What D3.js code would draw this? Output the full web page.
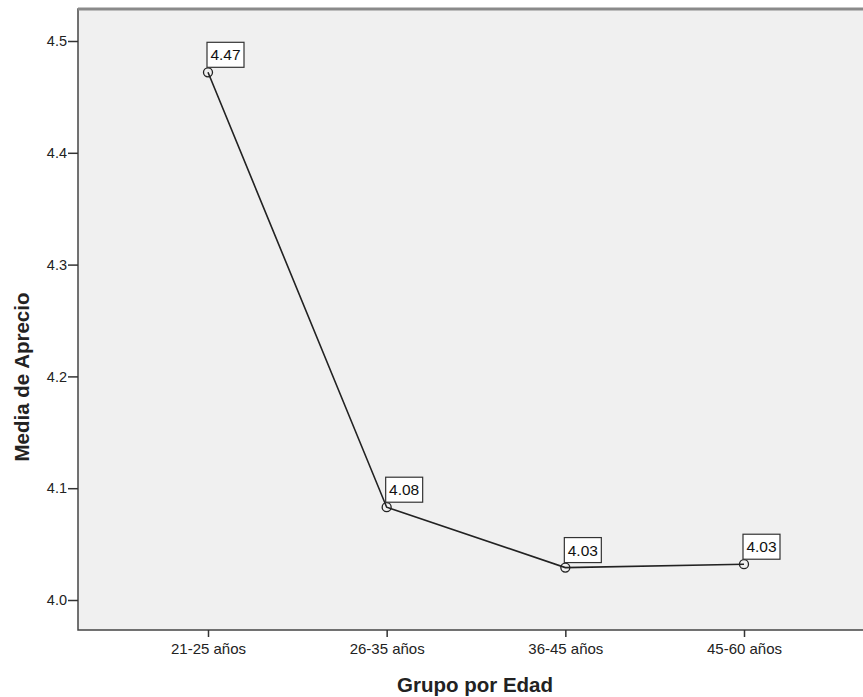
<!DOCTYPE html>
<html><head><meta charset="utf-8">
<script src="https://cdn.jsdelivr.net/npm/d3@7"></script>
<style>body{margin:0;background:#fff;}svg{display:block;font-family:Arial,"Liberation Sans",sans-serif;}</style>
</head><body>
<svg id="c" width="863" height="697"></svg>
<script>
const categories = ["21-25 años","26-35 años","36-45 años","45-60 años"];
const values = [4.472, 4.083, 4.029, 4.032];
const labels = ["4.47","4.08","4.03","4.03"];
const yTicks = [4.0,4.1,4.2,4.3,4.4,4.5];

const svg = d3.select("#c");
const L = 78, T = 9, R = 880, B = 630;
const x = d3.scalePoint().domain(categories).range([208, 744]);
const y = d3.scaleLinear().domain([4.0, 4.5]).range([600, 41]);
const FF = "Arial,'Liberation Sans',sans-serif";

svg.append("rect").attr("x",L).attr("y",T).attr("width",R-L).attr("height",B-T)
  .attr("fill","#f0f0f0").attr("stroke","#444").attr("stroke-width",1.5);
svg.append("line").attr("x1",L).attr("x2",R).attr("y1",T).attr("y2",T).attr("stroke","#8a8a8a").attr("stroke-width",3);

const ya = svg.append("g").attr("transform",`translate(${L},0)`)
  .call(d3.axisLeft(y).tickValues(yTicks).tickFormat(d3.format(".1f")).tickSize(10).tickPadding(1));
ya.select(".domain").remove();
ya.selectAll("line").attr("stroke","#333").attr("stroke-width",1.5);
ya.selectAll("text").attr("font-size",14.5).attr("fill","#222").attr("font-family",FF);

const xa = svg.append("g").attr("transform",`translate(0,${B})`)
  .call(d3.axisBottom(x).tickSize(7).tickPadding(6));
xa.select(".domain").remove();
xa.selectAll("line").attr("stroke","#333").attr("stroke-width",1.5);
xa.selectAll("text").attr("font-size",15).attr("fill","#222").attr("font-family",FF);

const data = categories.map((c,i)=>({c, v: values[i], l: labels[i]}));
svg.append("path").datum(data)
  .attr("d", d3.line().x(d=>x(d.c)).y(d=>y(d.v)))
  .attr("fill","none").attr("stroke","#222").attr("stroke-width",1.6);
svg.selectAll("circle.pt").data(data).join("circle").attr("class","pt")
  .attr("cx",d=>x(d.c)).attr("cy",d=>y(d.v)).attr("r",4.5)
  .attr("fill","none").attr("stroke","#222").attr("stroke-width",1.3);

const g = svg.selectAll("g.lab").data(data).join("g").attr("class","lab")
  .attr("transform",d=>`translate(${x(d.c)},${y(d.v)-5})`);
g.append("rect").attr("x",-1).attr("y",-25).attr("width",37).attr("height",25)
  .attr("fill","#fff").attr("stroke","#333").attr("stroke-width",1.2);
g.append("text").attr("x",17.5).attr("y",-7).attr("text-anchor","middle")
  .attr("font-size",15.5).attr("fill","#111").text(d=>d.l);

svg.append("text").attr("x",475).attr("y",692).attr("text-anchor","middle")
  .attr("font-size",20.5).attr("font-weight","bold").attr("fill","#222").text("Grupo por Edad");
svg.append("text").attr("transform","translate(29,377) rotate(-90)").attr("text-anchor","middle")
  .attr("font-size",20.5).attr("font-weight","bold").attr("fill","#222").text("Media de Aprecio");
</script>
</body></html>
